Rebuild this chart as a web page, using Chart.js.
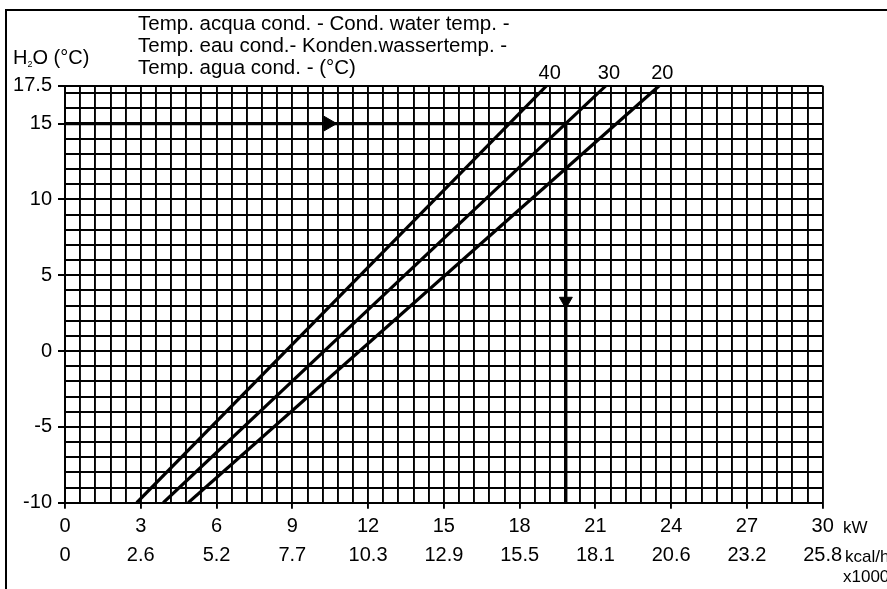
<!DOCTYPE html>
<html>
<head>
<meta charset="utf-8">
<script src="https://cdn.jsdelivr.net/npm/chart.js@4/dist/chart.umd.min.js"></script>
<style>
    html, body { margin: 0; padding: 0; background: #fff; }
    #wrap { position: relative; width: 887px; height: 589px; }
</style>
</head>
<body>
<div id="wrap"><canvas id="capacityChart"></canvas></div>
<script>
// condensing water temperature curves (°C) and where each crosses the bottom / top of the grid (kW)
const condTemps = [40, 30, 20];
const kwAtMinus10 = [2.84, 3.89, 4.88];
const kwAtTop = [19.07, 21.42, 23.53];

// worked example: water at 15 °C, 30 °C condensing -> 19.8 kW
const exampleWaterTemp = 15;
const exampleKw = 19.83;
const arrowRightAt = [10.42, 15];
const arrowDownAt = [19.83, 3.3];

// axes
const kwLabels = ['0', '3', '6', '9', '12', '15', '18', '21', '24', '27', '30'];
const kcalLabels = ['0', '2.6', '5.2', '7.7', '10.3', '12.9', '15.5', '18.1', '20.6', '23.2', '25.8'];
const yLabelValues = [-10, -5, 0, 5, 10, 15, 17.5];
const xMin = 0, xMax = 30, xStep = 0.6;
const yMin = -10, yMax = 17.5, yStep = 1;

const titleLines = [
    'Temp. acqua cond. - Cond. water temp. -',
    'Temp. eau cond.- Konden.wassertemp. -',
    'Temp. agua cond. - (°C)'
];

const FONT = '"Liberation Sans", Arial, sans-serif';

document.addEventListener('DOMContentLoaded', function() {
    const lineSets = condTemps.map(function(t, i) {
        return {
            label: t + ' °C',
            data: [{x: kwAtMinus10[i], y: yMin}, {x: kwAtTop[i], y: yMax}],
            borderColor: '#000',
            borderWidth: 3.2,
            pointRadius: 0,
            showLine: true
        };
    });

    const exampleSets = [
        {
            data: [{x: xMin, y: exampleWaterTemp}, {x: exampleKw, y: exampleWaterTemp}],
            borderColor: '#000', borderWidth: 3.2, pointRadius: 0, showLine: true
        },
        {
            data: [{x: exampleKw, y: exampleWaterTemp}, {x: exampleKw, y: yMin}],
            borderColor: '#000', borderWidth: 3.2, pointRadius: 0, showLine: true
        },
        {
            data: [{x: arrowRightAt[0], y: arrowRightAt[1]}],
            pointStyle: 'triangle', rotation: 90, pointRadius: 8.5,
            backgroundColor: '#000', borderColor: '#000', borderWidth: 1
        },
        {
            data: [{x: arrowDownAt[0], y: arrowDownAt[1]}],
            pointStyle: 'triangle', rotation: 180, pointRadius: 7.5,
            backgroundColor: '#000', borderColor: '#000', borderWidth: 1
        }
    ];

    // texts outside the plot + frame
    const decorations = {
        id: 'decorations',
        afterDraw: function(chart) {
            const ctx = chart.ctx;
            const xs = chart.scales.x;
            const top = chart.chartArea.top;
            ctx.save();

            ctx.strokeStyle = '#000';
            ctx.lineWidth = 2;
            ctx.strokeRect(6, 10, 1000, 1000);

            ctx.fillStyle = '#000';
            ctx.textBaseline = 'alphabetic';
            ctx.textAlign = 'left';
            ctx.font = '20.5px ' + FONT;
            titleLines.forEach(function(s, i) {
                ctx.fillText(s, 138, 30 + i * 22);
            });

            // H2O (°C)
            ctx.font = '20px ' + FONT;
            ctx.fillText('H', 13, 64);
            let w = ctx.measureText('H').width;
            ctx.font = '9px ' + FONT;
            ctx.fillText('2', 13 + w, 67);
            let w2 = ctx.measureText('2').width;
            ctx.font = '20px ' + FONT;
            ctx.fillText('O (°C)', 13 + w + w2, 64);

            // curve labels
            ctx.textAlign = 'center';
            condTemps.forEach(function(t, i) {
                ctx.fillText(String(t), xs.getPixelForValue(kwAtTop[i]) + 3, top - 7);
            });

            // unit labels
            ctx.textAlign = 'left';
            ctx.font = '17px ' + FONT;
            ctx.fillText('kW', 843, 533);
            ctx.fillText('kcal/h', 845, 562);
            ctx.fillText('x1000', 843, 582);
            ctx.restore();
        }
    };

    const chartCtx = document.getElementById('capacityChart').getContext('2d');
    new Chart(chartCtx, {
        type: 'scatter',
        data: { datasets: lineSets.concat(exampleSets) },
        options: {
            responsive: true,
            maintainAspectRatio: false,
            animation: false,
            layout: { padding: { top: 85.7, right: 64.3, left: 0, bottom: 0 } },
            plugins: { legend: { display: false }, tooltip: { enabled: false } },
            scales: {
                x: {
                    type: 'linear',
                    min: xMin,
                    max: xMax,
                    afterBuildTicks: function(scale) {
                        const ticks = [];
                        const n = Math.round((xMax - xMin) / xStep);
                        for (let i = 0; i <= n; i++) ticks.push({value: xMin + i * xStep});
                        scale.ticks = ticks;
                    },
                    afterFit: function(scale) { scale.height = 86.3; },
                    grid: {
                        color: '#000',
                        lineWidth: 1.9,
                        tickLength: 6,
                        tickWidth: 1.9,
                        tickColor: function(c) { return c.index % 5 === 0 ? '#000' : 'rgba(0,0,0,0)'; }
                    },
                    border: { color: '#000', width: 2 },
                    ticks: {
                        autoSkip: false,
                        maxRotation: 0,
                        color: '#000',
                        padding: 3,
                        font: { family: FONT, size: 20, lineHeight: 1.45 },
                        callback: function(value, index) {
                            if (index % 5 !== 0) return '';
                            return [kwLabels[index / 5], kcalLabels[index / 5]];
                        }
                    }
                },
                y: {
                    type: 'linear',
                    min: yMin,
                    max: yMax,
                    afterBuildTicks: function(scale) {
                        const ticks = [];
                        for (let v = yMin; v <= yMax; v += yStep) ticks.push({value: v});
                        ticks.push({value: yMax});
                        scale.ticks = ticks;
                    },
                    afterFit: function(scale) { scale.width = 65; },
                    grid: {
                        color: '#000',
                        lineWidth: 2,
                        tickLength: 7,
                        tickWidth: 2,
                        tickColor: function(c) {
                            return c.tick && yLabelValues.includes(c.tick.value) ? '#000' : 'rgba(0,0,0,0)';
                        }
                    },
                    border: { color: '#000', width: 2 },
                    ticks: {
                        autoSkip: false,
                        color: '#000',
                        padding: 6,
                        font: { family: FONT, size: 20 },
                        callback: function(value) {
                            return yLabelValues.includes(value) ? String(value) : '';
                        }
                    }
                }
            }
        },
        plugins: [decorations]
    });
});
</script>
</body>
</html>
